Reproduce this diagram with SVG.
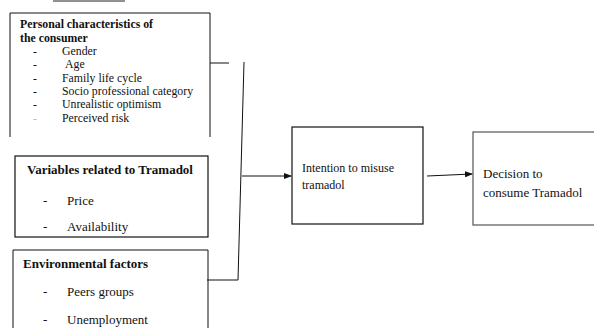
<svg xmlns="http://www.w3.org/2000/svg" width="594" height="328" viewBox="0 0 594 328">
<style>
text{font-family:"Liberation Serif","Times New Roman",serif;fill:#111;}
.h{font-weight:bold;}
.s11{font-size:11.8px;}
.s12{font-size:12px;}
.s13{font-size:13px;}
.ln{stroke:#111;stroke-width:1;fill:none;}
.bx{stroke:#111;stroke-width:1.2;fill:#fff;}
</style>
<defs>
<marker id="ah" markerWidth="8" markerHeight="6" refX="7" refY="3" orient="auto" markerUnits="userSpaceOnUse">
<path d="M0,0 L8,3 L0,6 Z" fill="#111"/>
</marker>
</defs>
<rect width="594" height="328" fill="#fff"/>
<line x1="53" y1="1" x2="125" y2="1" stroke="#222" stroke-width="1"/>

<g id="personal">
<path class="ln" d="M10,137 V13 H210 V137" stroke-width="1.2"/>
<text class="h s11" x="20" y="28">Personal characteristics of</text>
<text class="h s11" x="20" y="42">the consumer</text>
<text class="s11" x="33" y="55">-</text><text class="s11" x="62" y="55">Gender</text>
<text class="s11" x="33" y="68">-</text><text class="s11" x="65" y="68">Age</text>
<text class="s11" x="33" y="82">-</text><text class="s11" x="62" y="82">Family life cycle</text>
<text class="s11" x="33" y="95">-</text><text class="s11" x="62" y="95">Socio professional category</text>
<text class="s11" x="33" y="108">-</text><text class="s11" x="62" y="108">Unrealistic optimism</text>
<text class="s11" x="33" y="122" style="fill:#bbb">-</text><text class="s11" x="62" y="122">Perceived risk</text>
</g>

<g id="variables">
<rect class="bx" x="15" y="156" width="193" height="81"/>
<text class="h s13" x="27" y="174">Variables related to Tramadol</text>
<text class="s13" x="43" y="205">-</text><text class="s13" x="67" y="205">Price</text>
<text class="s13" x="43" y="231">-</text><text class="s13" x="67" y="231">Availability</text>
</g>

<g id="environmental">
<path class="ln" d="M13,330 V250 H208 V330" stroke-width="1.2"/>
<text class="h s13" x="23" y="268">Environmental factors</text>
<text class="s13" x="43" y="296">-</text><text class="s13" x="67" y="296">Peers groups</text>
<text class="s13" x="43" y="324">-</text><text class="s13" x="67" y="324">Unemployment</text>
</g>

<g id="intention">
<rect class="bx" x="292" y="127" width="131" height="97"/>
<text class="s12" x="302" y="172">Intention to misuse</text>
<text class="s12" x="302" y="189">tramadol</text>
</g>

<g id="decision">
<rect x="473" y="132" width="130" height="93" fill="#fff" stroke="#555" stroke-width="1.2"/>
<text class="s13" x="483" y="178">Decision to</text>
<text class="s13" x="483" y="197">consume Tramadol</text>
</g>

<g id="connectors">
<line class="ln" x1="210" y1="63" x2="229" y2="63"/>
<line class="ln" x1="244" y1="62" x2="238" y2="280"/>
<line class="ln" x1="207" y1="280" x2="238" y2="280"/>
<line class="ln" x1="242" y1="176" x2="291" y2="176" marker-end="url(#ah)"/>
<line class="ln" x1="427" y1="176" x2="472" y2="174" marker-end="url(#ah)"/>
</g>
</svg>
